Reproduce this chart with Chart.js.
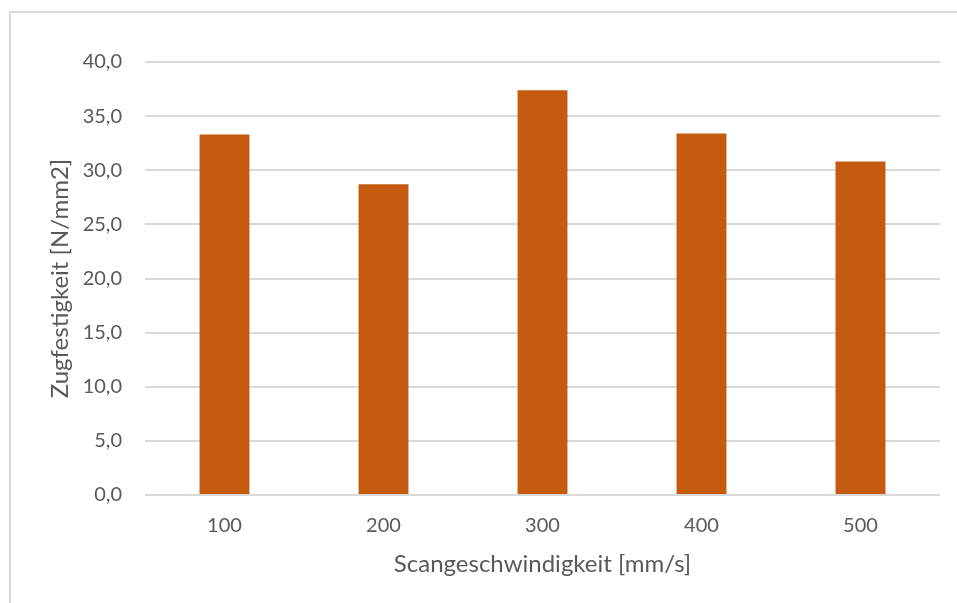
<!DOCTYPE html>
<html>
<head>
<meta charset="utf-8">
<script src="https://cdn.jsdelivr.net/npm/chart.js@4"></script>
<style>
    html, body { margin: 0; padding: 0; background: #fff; overflow: hidden; }
    #frame {
        position: absolute; left: 9px; top: 11px;
        width: 1100px; height: 800px;
        border: 2px solid #d9d9d9;
    }
    #zug-chart { position: absolute; left: 0; top: 0; }
</style>
</head>
<body>
<div id="frame"></div>
<canvas id="zug-chart" width="957" height="603"></canvas>
<script>
// Zugfestigkeit je Scangeschwindigkeit
const speeds = ['100', '200', '300', '400', '500'];
const strength = [33.3, 28.7, 37.4, 33.4, 30.8];
const yTicks = [0, 5, 10, 15, 20, 25, 30, 35, 40];

const textColor = '#595959';
const fontFamily = 'Lato, "Open Sans", sans-serif';

const ctx = document.getElementById('zug-chart');
const chart = new Chart(ctx, {
    type: 'bar',
    data: {
        labels: speeds,
        datasets: [{
            label: 'Zugfestigkeit',
            data: strength,
            backgroundColor: '#c55a11',
            barPercentage: 0.314,
            categoryPercentage: 1.0
        }]
    },
    options: {
        responsive: false,
        maintainAspectRatio: false,
        animation: false,
        devicePixelRatio: 1,
        layout: { padding: { left: 0, right: 17, top: 62, bottom: 0 } },
        plugins: {
            legend: { display: false },
            tooltip: { enabled: false }
        },
        scales: {
            x: {
                grid: { display: false, drawTicks: false },
                border: { display: false },
                ticks: {
                    color: textColor,
                    padding: 19,
                    font: { family: fontFamily, size: 20 }
                },
                title: {
                    display: true,
                    text: 'Scangeschwindigkeit [mm/s]',
                    color: textColor,
                    font: { family: fontFamily, size: 24, lineHeight: 1.2 },
                    padding: { top: 0, bottom: 24 }
                },
                afterFit: (scale) => { scale.height = 108; }
            },
            y: {
                min: 0,
                max: 40,
                grid: { color: '#d9d9d9', lineWidth: 2, drawTicks: false },
                border: { display: false },
                afterBuildTicks: (scale) => {
                    scale.ticks = yTicks.map(v => ({ value: v }));
                },
                ticks: {
                    color: textColor,
                    padding: 23,
                    font: { family: fontFamily, size: 20 },
                    callback: (value) => value.toFixed(1).replace('.', ',')
                },
                title: {
                    display: true,
                    text: 'Zugfestigkeit [N/mm2]',
                    color: textColor,
                    font: { family: fontFamily, size: 24, lineHeight: 1.2 },
                    padding: { top: 46, bottom: 0 }
                },
                afterFit: (scale) => { scale.width = 145; }
            }
        }
    }
});
</script>
</body>
</html>
